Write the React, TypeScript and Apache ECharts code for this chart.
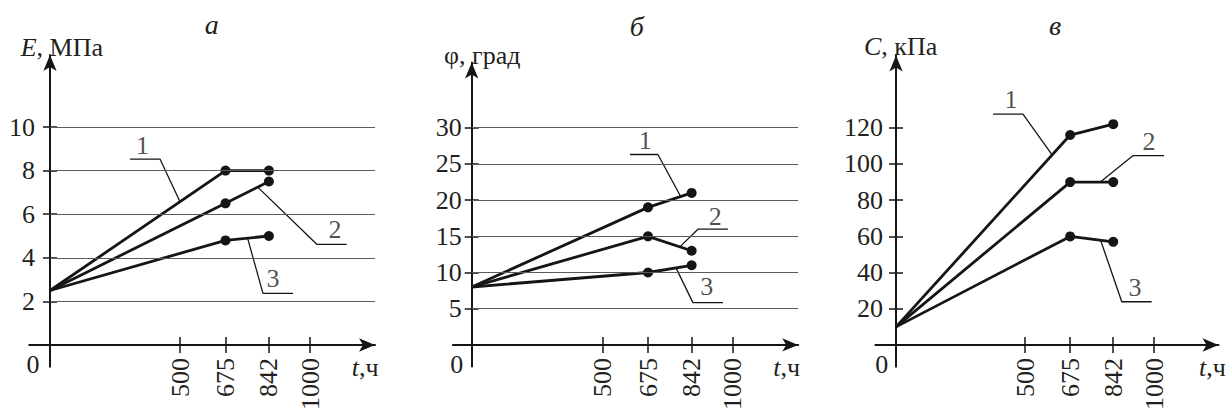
import React, { useEffect, useRef } from 'react';
import * as echarts from 'echarts';

// ---- data ----
const HOURS = [0, 675, 842];
const X_TICKS = [500, 675, 842, 1000];

const E_1 = [2.5, 8, 8];
const E_2 = [2.5, 6.5, 7.5];
const E_3 = [2.5, 4.8, 5.0];
const E_TICKS = [2, 4, 6, 8, 10];

const PHI_1 = [8, 19, 21];
const PHI_2 = [8, 15, 13];
const PHI_3 = [8, 10, 11];
const PHI_TICKS = [5, 10, 15, 20, 25, 30];

const C_1 = [10, 116, 122];
const C_2 = [10, 90, 90];
const C_3 = [10, 60, 57];
const C_TICKS = [20, 40, 60, 80, 100, 120];

const CURVE_NAMES = ['1', '2', '3'];

// ---- layout / annotations ----
const FONT = 'Liberation Serif';
const INK = '#151515';
const TEXT = '#231f20';
const FS = 26;

type Leader = { s: number; ax: number; knee: number[]; end: number[]; tp: number[] };

const PANELS = [
  {
    title: 'а', titleX: 211.7, titleY: 24.5,
    yName: '{i|E}, МПа', yNameX: 20.7, yNameY: 47,
    zeroX: 33, tNameX: 351.7,
    curves: [E_1, E_2, E_3], yTicks: E_TICKS,
    xMin: -80, xMax: 1250, yMin: -1, yMax: 13.3, gridEnd: 1250,
    grid: { left: 29.2, top: 55.1, width: 345.8, height: 311.7 },
    yLabelMargin: 15,
    leaders: [
      { s: 0, ax: 500, knee: [423, 8.53], end: [308, 8.53], tp: [356, 9.17] },
      { s: 1, ax: 799, knee: [1026, 4.62], end: [1141, 4.62], tp: [1096, 5.28] },
      { s: 2, ax: 760, knee: [819, 2.37], end: [935, 2.37], tp: [858, 3.07] },
    ] as Leader[],
  },
  {
    title: 'б', titleX: 636.7, titleY: 26,
    yName: 'φ, град', yNameX: 444, yNameY: 55,
    zeroX: 456.7, tNameX: 773.3,
    curves: [PHI_1, PHI_2, PHI_3], yTicks: PHI_TICKS,
    xMin: -72, xMax: 1250, yMin: -3, yMax: 39, gridEnd: 1250,
    grid: { left: 452.9, top: 62.6, width: 345.3, height: 304 },
    yLabelMargin: 10,
    leaders: [
      { s: 0, ax: 800, knee: [713, 26.3], end: [606, 26.3], tp: [664, 28.3] },
      { s: 1, ax: 797, knee: [866, 15.98], end: [981, 15.98], tp: [932, 17.8] },
      { s: 2, ax: 782, knee: [847, 5.84], end: [962, 5.84], tp: [900, 8.05] },
    ] as Leader[],
  },
  {
    title: 'в', titleX: 1055, titleY: 25,
    yName: '{i|C}, кПа', yNameX: 864, yNameY: 46.5,
    zeroX: 881.7, tNameX: 1199,
    curves: [C_1, C_2, C_3], yTicks: C_TICKS,
    xMin: -80, xMax: 1250, yMin: -12, yMax: 160, gridEnd: 1287,
    grid: { left: 875.4, top: 55.4, width: 343.1, height: 311.3 },
    yLabelMargin: 13,
    leaders: [
      { s: 0, ax: 605, knee: [492, 127.5], end: [376, 127.5], tp: [446, 135.7] },
      { s: 1, ax: 792, knee: [918, 104.6], end: [1039, 104.6], tp: [981, 112.3] },
      { s: 2, ax: 793, knee: [875, 23.9], end: [991, 23.9], tp: [926, 31.9] },
    ] as Leader[],
  },
];

function interp(xs: number[], ys: number[], x: number) {
  for (let k = 1; k < xs.length; k++) {
    if (x <= xs[k]) {
      const t = (x - xs[k - 1]) / (xs[k] - xs[k - 1]);
      return ys[k - 1] + t * (ys[k] - ys[k - 1]);
    }
  }
  return ys[ys.length - 1];
}

const plain = (v: number) => String(v);

function buildOption() {
  const grid: any[] = [];
  const xAxis: any[] = [];
  const yAxis: any[] = [];
  const series: any[] = [];
  const graphic: any[] = [];

  const tickStyle = { color: INK, width: 1.5 };
  const labelStyle = { fontSize: FS, fontFamily: FONT, color: TEXT };
  const arrowLine = { show: true, onZero: true, symbol: ['none', 'arrow'], symbolSize: [10, 16], lineStyle: { color: INK, width: 2 } };

  PANELS.forEach((p, i) => {
    const g = p.grid;
    const sx = g.width / (p.xMax - p.xMin);
    const sy = g.height / (p.yMax - p.yMin);
    // grid A: the quadrant starting at the origin (labels + data)
    const gA = {
      left: g.left + -p.xMin * sx,
      top: g.top,
      width: p.xMax * sx,
      height: p.yMax * sy,
    };
    const gi = 2 * i;
    grid.push({ ...gA, containLabel: false, outerBoundsMode: 'none' });
    // grid B: full extent incl. axis overhang past the origin (lines, arrows, ticks)
    grid.push({ ...g, containLabel: false, outerBoundsMode: 'none' });

    const ai = 3 * i;
    // ---- x axes ----
    xAxis.push({
      type: 'value', gridIndex: gi, min: 0, max: p.xMax, position: 'bottom',
      splitLine: { show: false }, axisLine: { show: false }, axisTick: { show: false },
      axisLabel: { show: true, customValues: X_TICKS, rotate: 90, margin: 13, formatter: plain, ...labelStyle },
    });
    const baseXB = { type: 'value', gridIndex: gi + 1, min: p.xMin, max: p.xMax, position: 'bottom', splitLine: { show: false }, axisLabel: { show: false } };
    xAxis.push({
      ...baseXB,
      axisLine: arrowLine,
      axisTick: { show: true, customValues: X_TICKS, length: 8, lineStyle: tickStyle },
    });
    xAxis.push({
      ...baseXB,
      axisLine: { show: false, onZero: true },
      axisTick: { show: true, inside: true, customValues: X_TICKS, length: 8, lineStyle: tickStyle },
    });

    // ---- y axes ----
    yAxis.push({
      type: 'value', gridIndex: gi, min: 0, max: p.yMax, position: 'left',
      splitLine: { show: false }, axisLine: { show: false }, axisTick: { show: false },
      axisLabel: { show: true, customValues: p.yTicks, margin: p.yLabelMargin, formatter: plain, ...labelStyle },
    });
    const baseYB = { type: 'value', gridIndex: gi + 1, min: p.yMin, max: p.yMax, position: 'left', splitLine: { show: false }, axisLabel: { show: false } };
    yAxis.push({
      ...baseYB,
      axisLine: arrowLine,
      axisTick: { show: true, customValues: p.yTicks, length: 7, lineStyle: tickStyle },
    });
    yAxis.push({
      ...baseYB,
      axisLine: { show: false, onZero: true },
      axisTick: { show: true, inside: true, customValues: p.yTicks, length: 7, lineStyle: tickStyle },
    });

    // horizontal grid lines
    series.push({
      type: 'line',
      xAxisIndex: ai,
      yAxisIndex: ai,
      data: [],
      symbol: 'none',
      clip: false,
      silent: true,
      z: 1,
      markLine: {
        silent: true,
        symbol: ['none', 'none'],
        label: { show: false },
        lineStyle: { color: '#5a5a5a', width: 1, type: 'solid' },
        data: p.yTicks.map((v) => [{ coord: [0, v] }, { coord: [p.gridEnd, v] }]),
      },
    });

    // curves
    p.curves.forEach((ys, k) => {
      series.push({
        type: 'line',
        name: CURVE_NAMES[k],
        xAxisIndex: ai,
        yAxisIndex: ai,
        clip: false,
        data: HOURS.map((h, j) => (j === 0 ? { value: [h, ys[j]], symbol: 'none' } : { value: [h, ys[j]] })),
        symbol: 'circle',
        symbolSize: 10,
        showSymbol: true,
        lineStyle: { color: INK, width: 2.8 },
        itemStyle: { color: INK },
        z: 3,
      });
    });

    // leader lines
    p.leaders.forEach((l) => {
      series.push({
        type: 'line',
        xAxisIndex: ai,
        yAxisIndex: ai,
        data: [[l.ax, interp(HOURS, p.curves[l.s], l.ax)], l.knee, l.end],
        symbol: 'none',
        silent: true,
        lineStyle: { color: INK, width: 1.3 },
        z: 2,
      });
    });
    series.push({
      type: 'scatter',
      xAxisIndex: ai,
      yAxisIndex: ai,
      silent: true,
      symbolSize: 1,
      itemStyle: { color: 'rgba(0,0,0,0)' },
      label: { show: true, position: 'inside', ...labelStyle },
      data: p.leaders.map((l) => ({ value: l.tp, label: { formatter: CURVE_NAMES[l.s] } })),
      z: 4,
    });

    // texts
    const rich = { i: { fontStyle: 'italic', fontSize: FS, fontFamily: FONT, fill: TEXT } };
    graphic.push({
      type: 'text', x: p.titleX, y: p.titleY, silent: true,
      style: { text: p.title, fontSize: 28, fontStyle: 'italic', fontFamily: FONT, fill: TEXT, align: 'center', verticalAlign: 'middle' },
    });
    graphic.push({
      type: 'text', x: p.yNameX, y: p.yNameY, silent: true,
      style: { text: p.yName, rich, fontSize: FS, fontFamily: FONT, fill: TEXT, align: 'left', verticalAlign: 'middle' },
    });
    graphic.push({
      type: 'text', x: p.zeroX, y: 364, silent: true,
      style: { text: '0', fontSize: FS, fontFamily: FONT, fill: TEXT, align: 'center', verticalAlign: 'middle' },
    });
    graphic.push({
      type: 'text', x: p.tNameX, y: 367, silent: true,
      style: { text: '{i|t},ч', rich, fontSize: FS, fontFamily: FONT, fill: TEXT, align: 'left', verticalAlign: 'middle' },
    });
  });

  return {
    animation: false,
    backgroundColor: '#ffffff',
    textStyle: { fontFamily: FONT },
    grid,
    xAxis,
    yAxis,
    series,
    graphic,
  };
}

export default function App() {
  const ref = useRef<HTMLDivElement>(null);
  useEffect(() => {
    if (!ref.current) return;
    const chart = echarts.init(ref.current, undefined, { renderer: 'svg' });
    chart.setOption(buildOption() as any);
    return () => chart.dispose();
  }, []);
  return (
    <div
      ref={ref}
      style={{ position: 'fixed', left: 0, top: 0, width: 1228, height: 416, background: '#fff' }}
    />
  );
}
